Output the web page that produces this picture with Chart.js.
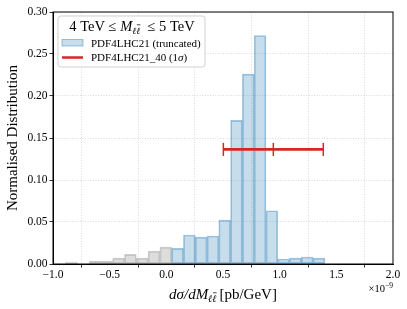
<!DOCTYPE html>
<html><head><meta charset="utf-8">
<script src="https://cdn.jsdelivr.net/npm/chart.js@4"></script>
<style>html,body{margin:0;padding:0;background:#fff}#wrap{width:407px;height:309px;position:relative}</style>
</head><body><div id="wrap"><canvas id="c"></canvas></div>
<script>
// ---- data (x in units of 1e-9 pb/GeV) ----
const greyCenters = [-0.837, -0.733, -0.629, -0.525, -0.421, -0.317, -0.213, -0.109, -0.005];
const greyValues  = [0.0024, 0.0, 0.0036, 0.0036, 0.0070, 0.0115, 0.0070, 0.0154, 0.0200];
const blueCenters = [0.099, 0.203, 0.307, 0.411, 0.515, 0.619, 0.723, 0.827, 0.931, 1.035, 1.139, 1.243, 1.347];
const blueValues  = [0.0186, 0.0345, 0.0320, 0.0333, 0.0523, 0.1710, 0.2260, 0.2720, 0.0634, 0.0060, 0.0070, 0.0083, 0.0070];
const errCenter = 0.944;
const errHalfWidth = 0.441;
const errLevel = 0.1364;
const xTicks = [-1.0, -0.5, 0.0, 0.5, 1.0, 1.5, 2.0];
const yTicks = [0.00, 0.05, 0.10, 0.15, 0.20, 0.25, 0.30];
const seriesLabels = ['PDF4LHC21 (truncated)', 'PDF4LHC21_40 (1σ)'];
const yTitle = 'Normalised Distribution';

const SERIF = '"Liberation Serif", "DejaVu Serif", serif';
const fmtX = v => (v < 0 ? '\u2212' : '') + Math.abs(v).toFixed(1);

function drawRuns(ctx, x, y, runs, align) {
  let w = 0;
  runs.forEach(r => { ctx.font = r.font; r.w = ctx.measureText(r.t).width; w += r.w; });
  let cx = align === 'center' ? x - w / 2 : (align === 'right' ? x - w : x);
  ctx.textAlign = 'left'; ctx.textBaseline = 'alphabetic';
  runs.forEach(r => {
    ctx.font = r.font; ctx.fillText(r.t, cx, y + (r.dy || 0));
    if (r.bar) {
      const yy = y + (r.dy || 0) - r.size * 0.92;
      ctx.save(); ctx.strokeStyle = ctx.fillStyle; ctx.lineWidth = 0.7;
      ctx.beginPath(); ctx.moveTo(cx + r.w * 0.15, yy); ctx.lineTo(cx + r.w * 1.05, yy); ctx.stroke(); ctx.restore();
    }
    cx += r.w;
  });
  return w;
}

function subLL(size, dy) {
  return [
    {t: '\u2113', font: 'italic ' + size + 'px ' + SERIF, dy},
    {t: '\u2113', font: 'italic ' + size + 'px ' + SERIF, dy, bar: true, size}
  ];
}

const decor = {
  id: 'decor',
  afterDraw(chart) {
    const ctx = chart.ctx, a = chart.chartArea;
    ctx.save();
    // frame
    ctx.strokeStyle = '#000'; ctx.lineWidth = 1;
    ctx.strokeRect(a.left, a.top, a.right - a.left, a.bottom - a.top);
    ctx.fillStyle = '#000';
    // x axis label
    const cxm = (a.left + a.right) / 2;
    drawRuns(ctx, cxm, 299, [
      {t: 'd\u03c3/dM', font: 'italic 15px ' + SERIF},
      ...subLL(10, 3),
      {t: '\u2009[pb/GeV]', font: '15px ' + SERIF}
    ], 'center');
    // offset text
    drawRuns(ctx, a.right, 292, [
      {t: '\u00d710', font: '10.5px ' + SERIF},
      {t: '\u22129', font: '7.5px ' + SERIF, dy: -4}
    ], 'right');
    // legend
    const lx = 58, ly = 16, lw = 147, lh = 51, r = 3;
    ctx.beginPath();
    ctx.moveTo(lx + r, ly); ctx.lineTo(lx + lw - r, ly); ctx.arcTo(lx + lw, ly, lx + lw, ly + r, r);
    ctx.lineTo(lx + lw, ly + lh - r); ctx.arcTo(lx + lw, ly + lh, lx + lw - r, ly + lh, r);
    ctx.lineTo(lx + r, ly + lh); ctx.arcTo(lx, ly + lh, lx, ly + lh - r, r);
    ctx.lineTo(lx, ly + r); ctx.arcTo(lx, ly, lx + r, ly, r); ctx.closePath();
    ctx.fillStyle = 'rgba(255,255,255,0.85)'; ctx.fill();
    ctx.strokeStyle = 'rgba(204,204,204,0.9)'; ctx.lineWidth = 1; ctx.stroke();
    ctx.fillStyle = '#000';
    drawRuns(ctx, lx + lw / 2 + 0.5, 30.5, [
      {t: '4 TeV \u2264 ', font: '14.5px ' + SERIF},
      {t: 'M', font: 'italic 14.5px ' + SERIF},
      ...subLL(9.5, 3),
      {t: '  \u2264 5 TeV', font: '14.5px ' + SERIF}
    ], 'center');
    const ds = chart.data.datasets;
    // patch
    ctx.fillStyle = ds[1].backgroundColor; ctx.strokeStyle = ds[1].borderColor; ctx.lineWidth = 1;
    ctx.fillRect(62, 39.5, 21, 6.5); ctx.strokeRect(62, 39.5, 21, 6.5);
    ctx.fillStyle = '#000';
    drawRuns(ctx, 91, 46.5, [{t: seriesLabels[0], font: '11px ' + SERIF}], 'left');
    // line entry
    ctx.strokeStyle = ds[0].borderColor; ctx.lineWidth = 2.5;
    ctx.beginPath(); ctx.moveTo(62, 57.5); ctx.lineTo(83, 57.5); ctx.stroke();
    const parts = seriesLabels[1].split('\u03c3');
    drawRuns(ctx, 91, 61, [
      {t: parts[0], font: '11px ' + SERIF},
      {t: '\u03c3', font: 'italic 11px ' + SERIF},
      {t: parts[1], font: '11px ' + SERIF}
    ], 'left');
    ctx.restore();
  }
};

const greyData = greyCenters.map((x, i) => ({x, y: greyValues[i]}));
const blueData = blueCenters.map((x, i) => ({x, y: blueValues[i]}));
const errData = [errCenter - errHalfWidth, errCenter, errCenter + errHalfWidth].map(x => ({x, y: errLevel}));

new Chart(document.getElementById('c'), {
  type: 'bar',
  data: {
    datasets: [
      {type: 'line', label: seriesLabels[1], data: errData, borderColor: '#d62728', backgroundColor: '#d62728',
       borderWidth: 2.8, pointStyle: 'line', pointRotation: 90, pointRadius: 6.5, pointBorderWidth: 1.5,
       pointHoverRadius: 6.5, order: 0},
      {label: seriesLabels[0], data: blueData, backgroundColor: 'rgba(31,119,180,0.25)', borderColor: 'rgba(31,119,180,0.42)',
       borderWidth: 1, borderSkipped: false, barPercentage: 1, categoryPercentage: 1, grouped: false, order: 1},
      {label: 'excluded', data: greyData, backgroundColor: 'rgba(128,128,128,0.27)', borderColor: 'rgba(128,128,128,0.38)',
       borderWidth: 1, borderSkipped: false, barPercentage: 1, categoryPercentage: 1, grouped: false, order: 2}
    ]
  },
  options: {
    responsive: true, maintainAspectRatio: false, animation: false,
    layout: {padding: {top: 12, right: 14, left: 0, bottom: 0}},
    plugins: {legend: {display: false}, tooltip: {enabled: false}},
    scales: {
      x: {
        type: 'linear', min: -1, max: 2, offset: false,
        afterBuildTicks: s => { s.ticks = xTicks.map(v => ({value: v})); },
        afterFit: s => { s.height = 45; },
        ticks: {callback: v => fmtX(v), color: '#000', font: {family: SERIF, size: 11.5}, padding: 1, maxRotation: 0, autoSkip: false},
        grid: {color: 'rgba(176,176,176,0.6)', lineWidth: 0.8, tickColor: '#000', tickLength: 3.5, tickWidth: 0.8, tickBorderDash: []},
        border: {display: true, color: '#000', width: 1, dash: [1, 1.6]}
      },
      y: {
        min: 0, max: 0.3,
        afterBuildTicks: s => { s.ticks = yTicks.map(v => ({value: v})); },
        afterFit: s => { s.width = 53; },
        ticks: {callback: v => v.toFixed(2), color: '#000', font: {family: SERIF, size: 11.5}, padding: 2, autoSkip: false},
        grid: {color: 'rgba(176,176,176,0.6)', lineWidth: 0.8, tickColor: '#000', tickLength: 3.5, tickWidth: 0.8, tickBorderDash: []},
        border: {display: true, color: '#000', width: 1, dash: [1, 1.6]},
        title: {display: true, text: yTitle, color: '#000', font: {family: SERIF, size: 15}, padding: {top: 4, bottom: 0}}
      }
    }
  },
  plugins: [decor]
});
</script></body></html>
